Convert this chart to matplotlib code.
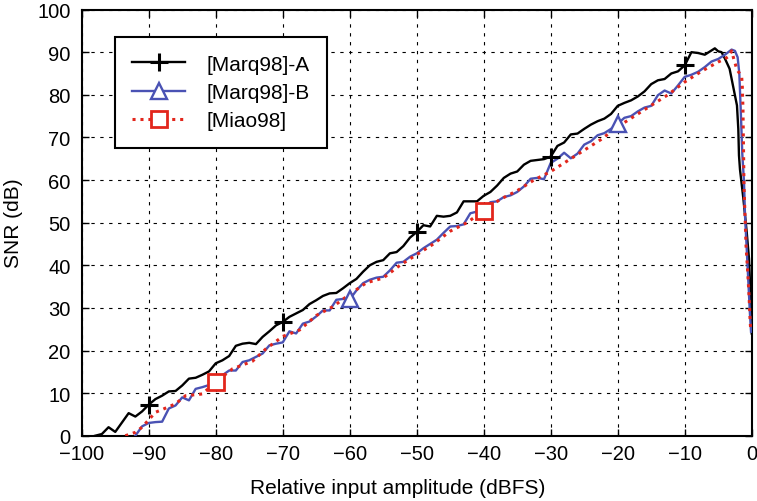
import numpy as np
import matplotlib.pyplot as plt

# data (dBFS, dB)
x_a = [-98, -97, -96, -95, -94, -93, -92, -91, -90, -89, -88, -87, -86, -85,
       -84, -83, -82, -81, -80, -79, -78, -77, -76, -75, -74, -73, -72, -71,
       -70, -69, -68, -67, -66, -65, -64, -63, -62, -61, -60, -59, -58, -57,
       -56, -55, -54, -53, -52, -51, -50, -49, -48, -47, -46, -45, -44, -43,
       -42, -41, -40, -39, -38, -37, -36, -35, -34, -33, -32, -31, -30, -29,
       -28, -27, -26, -25, -24, -23, -22, -21, -20, -19, -18, -17, -16, -15,
       -14, -13, -12, -11, -10, -9, -8, -7, -6, -5.5, -5, -4.5, -4, -3.3,
       -2.7, -2.2, -2.0, -1.9, -1.75, -1.25, -0.75, -0.4, -0.1, 0.0]
snr_a = [0.0, 0.4, 2.0, 0.9, 3.1, 5.3, 4.5, 5.7, 7.3, 8.6, 9.4, 10.4, 10.5, 11.8,
         13.4, 13.6, 14.3, 15.1, 17.0, 17.7, 18.7, 21.1, 21.6, 21.8, 21.5, 23.2, 24.5, 25.9,
         26.7, 27.9, 28.7, 29.5, 30.9, 31.8, 32.8, 33.4, 33.5, 34.6, 35.8, 36.8, 38.5, 40.0,
         40.8, 41.2, 42.8, 43.1, 44.5, 46.5, 47.8, 49.4, 49.1, 51.6, 51.4, 51.6, 52.4, 55.0,
         55.0, 55.0, 56.3, 57.2, 58.7, 60.5, 61.5, 62.0, 63.6, 64.5, 64.7, 64.9, 65.5, 68.0,
         68.8, 70.7, 70.9, 72.0, 73.0, 73.8, 74.4, 75.5, 77.4, 78.1, 78.7, 79.6, 80.8, 82.5,
         83.4, 83.7, 85.0, 85.5, 86.9, 90.0, 89.8, 89.4, 90.4, 90.9, 90.2, 90.0, 88.5, 86.1,
         81.4, 77.5, 72.0, 65.8, 62.5, 55.7, 47.9, 41.5, 30.0, 24.0]

x_b = [-92, -91, -90, -89, -88, -87, -86, -85, -84, -83, -82, -81, -80, -79,
       -78, -77, -76, -75, -74, -73, -72, -71, -70, -69, -68, -67, -66, -65,
       -64, -63, -62, -61, -60, -59, -58, -57, -56, -55, -54, -53, -52, -51,
       -50, -49, -48, -47, -46, -45, -44, -43, -42, -41, -40, -39, -38, -37,
       -36, -35, -34, -33, -32, -31, -30, -29, -28, -27, -26, -25, -24, -23,
       -22, -21, -20, -19, -18, -17, -16, -15, -14, -13, -12, -11, -10, -9,
       -8, -7, -6, -5, -4, -3, -2.5, -2.1, -1.85, -1.65, -1.4, -1.15, -1.0,
       -0.75, -0.5, -0.25, -0.1]
snr_b = [0.0, 2.2, 3.0, 3.2, 3.3, 6.4, 7.1, 9.0, 8.3, 11.0, 11.4, 11.9, 12.2, 14.2,
         15.3, 15.3, 17.3, 17.7, 18.5, 19.3, 21.2, 21.6, 21.9, 24.5, 24.0, 26.3, 26.8, 28.0,
         29.4, 29.4, 31.9, 32.1, 32.0, 34.1, 35.8, 36.6, 37.1, 37.3, 38.8, 40.6, 40.8, 42.0,
         42.8, 44.0, 45.0, 46.0, 47.6, 49.1, 49.2, 49.6, 52.2, 52.6, 53.4, 54.8, 55.0, 56.0,
         56.4, 57.2, 58.5, 60.3, 60.5, 60.2, 64.0, 65.0, 66.4, 65.1, 66.2, 68.3, 69.1, 70.5,
         71.0, 72.0, 73.2, 74.6, 75.0, 76.1, 77.0, 77.4, 79.9, 81.0, 80.3, 82.2, 84.2, 84.7,
         85.4, 86.5, 87.8, 88.4, 89.4, 90.6, 90.3, 88.8, 85.0, 77.0, 66.0, 59.6, 51.8,
         44.0, 36.1, 28.3, 24.4]

x_c = [-93.5, -92, -91, -89, -87, -86, -84.5, -82, -80, -77.5, -74.5, -72.5, -70,
       -67.5, -65, -62.5, -60, -57.5, -55, -52.5, -50, -47.5, -45, -42.5, -40,
       -37.5, -35, -32.5, -30, -27.5, -25, -22.5, -20, -17.5, -15, -12.5, -10,
       -7.5, -5, -4, -3.3, -3.0, -2.6, -2.2, -1.5, -1.4, -1.3, -1.25, -1.2,
       -1.15, -1.0, -0.85, -0.6, -0.4, -0.25, -0.15]
snr_c = [0.0, 0.8, 2.0, 5.5, 6.8, 7.5, 9.4, 9.8, 12.6, 15.7, 17.5, 20.4, 23.3,
         24.8, 28.2, 30.3, 33.2, 35.9, 37.0, 40.0, 42.5, 45.0, 48.0, 50.0, 52.8,
         55.5, 57.5, 60.0, 62.0, 64.5, 67.0, 69.5, 72.5, 75.0, 77.5, 80.0, 83.0,
         85.5, 87.7, 88.4, 89.2, 90.3, 88.0, 85.9, 84.3, 81.8, 76.5, 70.3, 65.0,
         58.4, 51.8, 44.7, 38.5, 33.0, 27.5, 24.8]

# where the markers sit
mk_a = [-90, -70, -50, -30, -10]
mk_b = [-60, -20]
mk_c = [-80, -40]

labels = ['[Marq98]-A', '[Marq98]-B', '[Miao98]']

plt.rcParams['font.family'] = ['Liberation Sans', 'DejaVu Sans']

fig = plt.figure(figsize=(7.57, 5.02), dpi=100)
ax = fig.add_axes([0.108, 0.130, 0.885, 0.849])

blue = '#4a52b4'
red = '#e2261c'
dots = (0, (1.0, 1.6))

ax.plot(x_a, snr_a, color='black', lw=1.7, zorder=3)
ax.plot(x_b, snr_b, color=blue, lw=1.7, zorder=4)
ax.plot(x_c, snr_c, color=red, lw=2.2, ls=dots, zorder=5)

ax.plot(mk_a, np.interp(mk_a, x_a, snr_a), ls='none', marker='+', ms=13,
        mew=2.2, color='black', zorder=6)
ax.plot(mk_b, np.interp(mk_b, x_b, snr_b), ls='none', marker='^', ms=12,
        mew=1.7, mfc='white', mec=blue, zorder=6)
ax.plot(mk_c, np.interp(mk_c, x_c, snr_c), ls='none', marker='s', ms=12,
        mew=2.0, mfc='white', mec=red, zorder=6)

# legend proxies
h1, = ax.plot([], [], color='black', lw=1.7, marker='+', ms=13, mew=2.2)
h2, = ax.plot([], [], color=blue, lw=1.7, marker='^', ms=12, mew=1.7,
              mfc='white', mec=blue)
h3, = ax.plot([], [], color=red, lw=2.2, ls=dots, marker='s', ms=12, mew=2.0,
              mfc='white', mec=red)

ax.set_xlim(-100, 0)
ax.set_ylim(0, 100)
ax.set_xticks(np.arange(-100, 1, 10))
ax.set_yticks(np.arange(0, 101, 10))
ax.set_xticklabels(['\u2212%d' % (-v) if v < 0 else '0' for v in range(-100, 1, 10)])
ax.tick_params(direction='in', length=5, width=1, labelsize=14.5, top=True, right=True)
ax.tick_params(axis='x', pad=6)
ax.tick_params(axis='y', pad=8)
ax.grid(True, color='black', ls=(0, (3, 5)), lw=0.8)
for s in ax.spines.values():
    s.set_linewidth(1.5)

ax.set_xlabel('Relative input amplitude (dBFS)', fontsize=15)
ax.xaxis.set_label_coords(0.472, -0.10)
ax.set_ylabel('SNR (dB)', fontsize=15, labelpad=10)

leg = ax.legend([h1, h2, h3], labels, loc='upper left',
                bbox_to_anchor=(0.049, 0.936), fontsize=15, frameon=True,
                fancybox=False, framealpha=1, edgecolor='black', handlelength=2.55,
                handletextpad=1.0, borderpad=0.85, labelspacing=0.45, borderaxespad=0)
leg.get_frame().set_linewidth(1.5)
leg.set_zorder(10)

plt.savefig('out.png', dpi=100)
